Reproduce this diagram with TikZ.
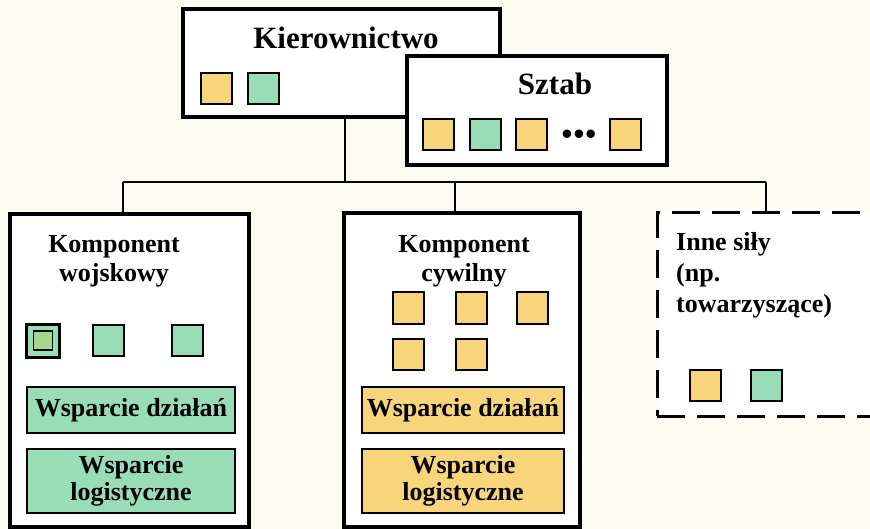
\documentclass[tikz,border=0pt]{standalone}
\usepackage{fontspec}
\setmainfont{Liberation Serif}
\definecolor{cream}{RGB}{253,252,240}
\definecolor{gold}{RGB}{248,213,122}
\definecolor{mint}{RGB}{152,221,183}
\definecolor{olive}{RGB}{165,216,142}
\begin{document}
\begin{tikzpicture}[x=1pt,y=-1pt,
		bigbox/.style={draw, fill=white, line width=4.5pt, inner sep=0},
		compbox/.style={draw, fill=white, line width=3.5pt, inner sep=0},
		dashbox/.style={draw, fill=white, line width=3pt, dash pattern=on 28pt off 12pt, inner sep=0},
		bigtext/.style={font=\fontsize{31}{36}\selectfont\bfseries, inner sep=0, anchor=base},
		headtext/.style={font=\fontsize{26}{29}\selectfont\bfseries, inner sep=0, anchor=north},
		ysq/.style={draw, fill=gold, line width=2pt, minimum size=31pt, inner sep=0},
		gsq/.style={draw, fill=mint, line width=2pt, minimum size=31pt, inner sep=0},
		supp/.style={draw, line width=2pt, inner sep=0, align=center, font=\fontsize{26}{27.5}\selectfont\bfseries},
		conn/.style={line width=1.4pt}]
		\fill[cream] (0,0) rectangle (870,529);
		\clip (0,0) rectangle (870,529);
		\node[bigbox, minimum width=317pt, minimum height=108pt] (kier) at (341.5,63) {};
		\node[bigtext] (kiert) at (346,49) {Kierownictwo};
		\node[ysq] (k1) at (216.5,89) {};
		\node[gsq] (k2) at (263.5,89) {};
		\node[bigbox, minimum width=260pt, minimum height=109pt] (sztab) at (537,110.5) {};
		\node[bigtext] (sztabt) at (555,95) {Sztab};
		\node[ysq] (s1) at (438.5,135) {};
		\node[gsq] (s2) at (485,135) {};
		\node[ysq] (s3) at (531,135) {};
		\node[bigtext, anchor=center] (dots) at (579,137) {•\kern1pt•\kern1pt•};
		\node[ysq] (s4) at (625,135) {};
		\node[compbox, minimum width=239pt, minimum height=313pt] (wojsk) at (129.5,370.5) {};
		\node[headtext, align=center] (wojskt) at (114,235) {Komponent\\wojskowy};
		\node[gsq, line width=3pt, minimum size=33pt] (w1) at (43,340.5) {};
		\node[draw, fill=olive, line width=1.6pt, minimum size=19pt, inner sep=0] (w1i) at (w1) {};
		\node[gsq] (w2) at (108.5,340.5) {};
		\node[gsq] (w3) at (187,340.5) {};
		\node[supp, fill=mint, minimum width=208pt, minimum height=46pt] (wdz) at (131,410) {Wsparcie działań};
		\node[supp, fill=mint, minimum width=208pt, minimum height=64pt] (wlog) at (131,481) {Wsparcie\\logistyczne};
		\node[compbox, minimum width=236pt, minimum height=314pt] (cywil) at (462,370) {};
		\node[headtext, align=center] (cywilt) at (464,235) {Komponent\\cywilny};
		\node[ysq] (c1) at (408,308) {};
		\node[ysq] (c2) at (471,308) {};
		\node[ysq] (c3) at (532,308) {};
		\node[ysq] (c4) at (408,354) {};
		\node[ysq] (c5) at (471,354) {};
		\node[supp, fill=gold, minimum width=202pt, minimum height=46pt] (cdz) at (463,410) {Wsparcie działań};
		\node[supp, fill=gold, minimum width=202pt, minimum height=64pt] (clog) at (463,481) {Wsparcie\\logistyczne};
		\node[dashbox, minimum width=260pt, minimum height=203pt] (inne) at (787,314.5) {};
		\node[headtext, anchor=north west, align=left, font=\fontsize{26}{31}\selectfont\bfseries] (innet) at (676,232) {Inne siły\\(np.\\towarzyszące)};
		\node[ysq] (i1) at (705,385) {};
		\node[gsq] (i2) at (766,385) {};
		\coordinate (hub) at (345,182);
		\coordinate (jw) at (123,182);
		\coordinate (jc) at (455,182);
		\coordinate (ji) at (766,182);
		\draw[conn] (kier.south -| hub) to (hub);
		\draw[conn] (jw) to (ji);
		\draw[conn] (jw) to (jw |- wojsk.north);
		\draw[conn] (jc) to (jc |- cywil.north);
		\draw[conn] (ji) to (ji |- inne.north);
	\end{tikzpicture}
\end{document}
